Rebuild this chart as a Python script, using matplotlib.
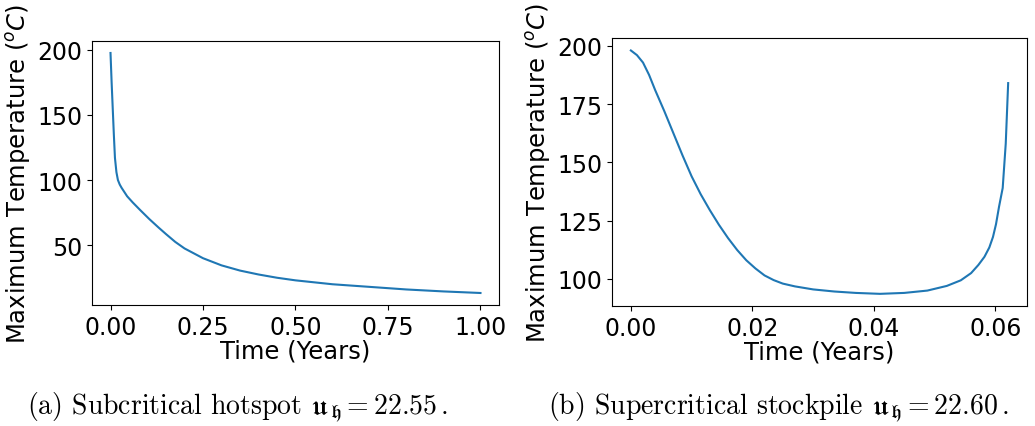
import matplotlib
matplotlib.use("Agg")
import matplotlib.pyplot as plt

# (a) subcritical hotspot
timeSub = [0.0, 0.003, 0.006, 0.009, 0.012, 0.016, 0.02, 0.025, 0.03, 0.045, 0.06,
           0.08, 0.105, 0.13, 0.15, 0.175, 0.2, 0.25, 0.3, 0.35, 0.4, 0.45, 0.5,
           0.6, 0.7, 0.8, 0.9, 1.0]
tempSub = [197.5, 175.0, 155.0, 135.0, 117.0, 106.0, 100.0, 96.5, 94.0, 87.5, 82.8,
           77.0, 70.0, 63.5, 58.5, 52.5, 47.5, 40.0, 34.5, 30.5, 27.5, 25.0, 23.0,
           20.0, 18.0, 16.0, 14.5, 13.3]

# (b) supercritical stockpile
timeSup = [0.0, 0.001, 0.002, 0.003, 0.004, 0.0055, 0.007, 0.0085, 0.01, 0.0115,
           0.013, 0.0145, 0.016, 0.0175, 0.019, 0.0205, 0.022, 0.0235, 0.025, 0.027,
           0.03, 0.0335, 0.037, 0.041, 0.045, 0.0488, 0.052, 0.0543, 0.056, 0.0572,
           0.0582, 0.059, 0.0596, 0.0601, 0.0606, 0.0612, 0.0617, 0.0621]
tempSup = [198.0, 196.0, 192.8, 187.5, 181.0, 172.0, 162.5, 153.0, 144.0, 136.3,
           129.5, 123.2, 117.5, 112.4, 108.0, 104.5, 101.5, 99.5, 98.0, 96.8,
           95.5, 94.6, 94.0, 93.6, 94.0, 95.0, 97.0, 99.4, 102.5, 106.0,
           109.5, 113.5, 118.0, 123.5, 131.0, 139.0, 158.0, 184.0]

captions = [r"(a) Subcritical hotspot $\mathfrak{u}_\mathfrak{h} = 22.55\,.$",
            r"(b) Supercritical stockpile $\mathfrak{u}_\mathfrak{h} = 22.60\,.$"]

fig = plt.figure(figsize=(10.35, 4.27), dpi=100)

axLeft  = fig.add_axes([0.0889, 0.2834, 0.3932, 0.6183])
axRight = fig.add_axes([0.5913, 0.2810, 0.4010, 0.6270])

for axis, t, T in [(axLeft, timeSub, tempSub), (axRight, timeSup, tempSup)]:
    axis.plot(t, T, color="#1f77b4", linewidth=1.5)
    axis.set_xlabel("Time (Years)", fontsize=17.5, labelpad=0)
    axis.set_ylabel(r"Maximum Temperature ($^oC$)", fontsize=17.5, labelpad=3)
    axis.tick_params(labelsize=17)

axLeft.set_xticks([0.0, 0.25, 0.5, 0.75, 1.0])
axLeft.set_yticks([50, 100, 150, 200])
axRight.set_xticks([0.0, 0.02, 0.04, 0.06])
axRight.set_yticks([100, 125, 150, 175, 200])

fig.text(0.23, 0.045, captions[0], ha="center", va="center", fontsize=20,
         family="cmr10", math_fontfamily="cm")
fig.text(0.752, 0.045, captions[1], ha="center", va="center", fontsize=20,
         family="cmr10", math_fontfamily="cm")

fig.savefig("out.png", dpi=100)
